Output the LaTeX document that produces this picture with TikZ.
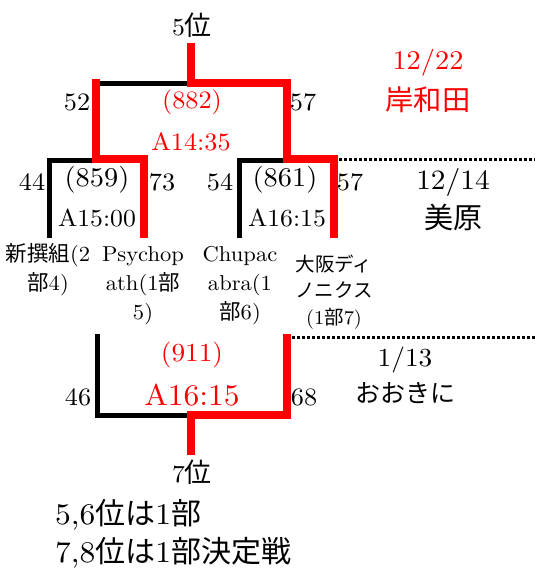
\documentclass[tikz,border=0pt]{standalone}
\usepackage{fontspec}
\setmainfont{lmroman10-regular}[Extension=.otf,FakeStretch=1.05]
\newfontfamily\jp{Noto Sans CJK JP}[Scale=1.1]
\newfontfamily\jq{Noto Sans CJK JP}
\begin{document}
\begin{tikzpicture}[x=1pt,y=-1pt,
  blk/.style={draw=black,line width=5pt,line join=miter},
  rd/.style={draw=red,line width=8pt,line join=miter},
  dotline/.style={draw=black,line width=3pt,dash pattern=on 3pt off 2pt},
  txt/.style={inner sep=0pt,text=black},
  lab/.style={txt,font=\fontsize{25}{29}\selectfont},
  game/.style={txt,font=\fontsize{27}{31}\selectfont},
  time/.style={txt,font=\fontsize{24.5}{29}\selectfont},
  team/.style={txt,align=center,font=\fontsize{21.5}{29}\selectfont},
  rank/.style={txt,font=\fontsize{24.5}{30}\selectfont},
  note/.style={txt,anchor=west,font=\fontsize{30}{34}\selectfont},
  hot/.style={text=red}]
\useasboundingbox (0,0) rectangle (535,568);

% ---- black bracket lines ----
\draw[blk] (97,83) -- (191,83);
\draw[blk] (49,238) -- (49,160) -- (96,160);
\draw[blk] (239,238) -- (239,160) -- (287,160);
\draw[blk] (97,334) -- (97,415) -- (191,415);
% ---- red bracket lines ----
\draw[rd] (191,43) -- (191,83) -- (287,83) -- (287,159) -- (334,159) -- (334,238);
\draw[rd] (96,79) -- (96,159) -- (144,159) -- (144,238);
\draw[rd] (287,334) -- (287,415) -- (191,415) -- (191,455);
% ---- dotted separators ----
\draw[dotline] (339,159) -- (535,159);
\draw[dotline] (292,337) -- (535,337);

% ---- top ----
\node[rank] (p5) at (192,25) {5{\jp 位}};
\node[lab] (l52) at (77,102) {52};
\node[lab] (l57a) at (303,102) {57};
\node[game,hot,font=\fontsize{25}{29}\selectfont] (g882) at (192,102) {(882)};
\node[time,hot,font=\fontsize{25}{29}\selectfont] (t882) at (191,142) {A14:35};
\node[txt,hot,font=\fontsize{27}{31}\selectfont] (d1222) at (428,63) {12/22};
\node[txt,hot,font=\fontsize{28.3}{32}\selectfont] (v1222) at (428,100) {\jq 岸和田};

% ---- second row ----
\node[lab] (l44) at (32,182) {44};
\node[lab] (l73) at (162,182) {73};
\node[lab] (l54) at (220,182) {54};
\node[lab] (l57b) at (350,182) {57};
\node[game] (g859) at (97,180) {(859)};
\node[game] (g861) at (285,180) {(861)};
\node[time] (t859) at (97,218) {A15:00};
\node[time] (t861) at (287,218) {A16:15};
\node[txt,font=\fontsize{28}{32}\selectfont] (d1214) at (453,182) {12/14};
\node[txt,font=\fontsize{29}{32}\selectfont] (v1214) at (453,217) {\jq 美原};

% ---- teams ----
\node[team] (tm1) at (48,270) {{\jq 新撰組}(2\\{\jq 部}4)};
\node[team] (tm2) at (143,286) {Psychop\\ath(1{\jq 部}\\5)};
\node[team] (tm3) at (240,286) {Chupac\\abra(1\\{\jq 部}6)};
\node[team,font=\fontsize{19.5}{26.5}\selectfont] (tm4) at (334,292) {{\jq 大阪ディ}\\{\jq ノニクス}\\(1{\jq 部}7)};

% ---- bottom ----
\node[game,hot,font=\fontsize{26}{30}\selectfont] (g911) at (192,355) {(911)};
\node[time,hot,font=\fontsize{30}{34}\selectfont] (t911) at (192,395) {A16:15};
\node[lab] (l46) at (78,397) {46};
\node[lab] (l68) at (304,397) {68};
\node[txt,font=\fontsize{26}{30}\selectfont] (d0113) at (405,360) {1/13};
\node[txt,font=\fontsize{25}{30}\selectfont] (v0113) at (405,393) {\jq おおきに};
\node[rank] (p7) at (192,472) {7{\jp 位}};
\node[note] (n1) at (55,515) {5,6{\jq 位は}1{\jq 部}};
\node[note] (n2) at (55,553) {7,8{\jq 位は}1{\jq 部決定戦}};
\end{tikzpicture}
\end{document}
